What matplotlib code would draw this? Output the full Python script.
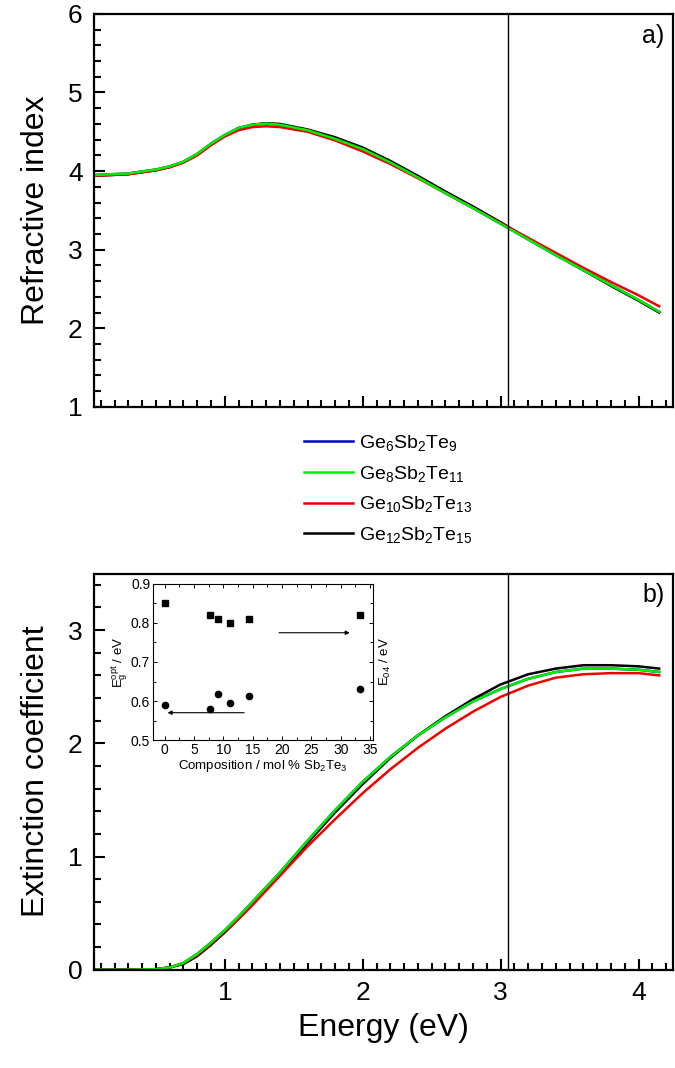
import numpy as np
import matplotlib.pyplot as plt
from matplotlib.ticker import MultipleLocator

plt.rcParams['font.family'] = ['Liberation Sans', 'DejaVu Sans']
plt.rcParams['mathtext.fontset'] = 'custom'
plt.rcParams['mathtext.rm'] = 'Liberation Sans'
plt.rcParams['mathtext.it'] = 'Liberation Sans'

# photon energy (eV) at which the curves were read
energy = [0.05, 0.3, 0.5, 0.6, 0.7, 0.8, 0.9, 1.0, 1.1, 1.2, 1.3, 1.4, 1.6, 1.8,
          2.0, 2.2, 2.4, 2.6, 2.8, 3.0, 3.2, 3.4, 3.6, 3.8, 4.0, 4.15]

labels = ['Ge$_6$Sb$_2$Te$_9$', 'Ge$_8$Sb$_2$Te$_{11}$',
          'Ge$_{10}$Sb$_2$Te$_{13}$', 'Ge$_{12}$Sb$_2$Te$_{15}$']
colors = ['#0000cc', '#00ee00', '#ee0000', 'black']

# refractive index n
n_ge6 = [3.95, 3.97, 4.02, 4.06, 4.12, 4.22, 4.35, 4.46, 4.55, 4.59, 4.605, 4.59, 4.52, 4.41,
         4.28, 4.11, 3.92, 3.72, 3.53, 3.33, 3.13, 2.93, 2.74, 2.55, 2.36, 2.21]
n_ge8 = [3.95, 3.97, 4.02, 4.06, 4.12, 4.22, 4.35, 4.46, 4.55, 4.59, 4.605, 4.59, 4.52, 4.41,
         4.28, 4.11, 3.92, 3.72, 3.53, 3.33, 3.13, 2.93, 2.74, 2.55, 2.36, 2.21]
n_ge10 = [3.94, 3.96, 4.01, 4.05, 4.11, 4.20, 4.33, 4.44, 4.52, 4.56, 4.57, 4.56, 4.50, 4.39,
          4.25, 4.09, 3.91, 3.72, 3.53, 3.34, 3.15, 2.96, 2.77, 2.59, 2.42, 2.28]
n_ge12 = [3.94, 3.96, 4.01, 4.05, 4.11, 4.21, 4.34, 4.45, 4.54, 4.59, 4.61, 4.60, 4.53, 4.43,
          4.30, 4.13, 3.94, 3.74, 3.55, 3.35, 3.14, 2.94, 2.74, 2.54, 2.35, 2.20]

# extinction coefficient k
k_ge6 = [0, 0, 0.005, 0.02, 0.06, 0.14, 0.24, 0.35, 0.47, 0.60, 0.73, 0.86, 1.14, 1.41,
         1.66, 1.88, 2.07, 2.23, 2.37, 2.48, 2.57, 2.63, 2.66, 2.66, 2.65, 2.63]
k_ge8 = [0, 0, 0.005, 0.02, 0.06, 0.14, 0.24, 0.35, 0.47, 0.60, 0.73, 0.86, 1.14, 1.41,
         1.66, 1.88, 2.07, 2.23, 2.37, 2.48, 2.57, 2.63, 2.66, 2.66, 2.65, 2.63]
k_ge10 = [0, 0, 0.005, 0.02, 0.06, 0.13, 0.23, 0.34, 0.45, 0.57, 0.70, 0.83, 1.09, 1.33,
          1.56, 1.77, 1.96, 2.13, 2.28, 2.41, 2.51, 2.58, 2.61, 2.62, 2.62, 2.60]
k_ge12 = [0, 0, 0.005, 0.02, 0.05, 0.12, 0.22, 0.33, 0.45, 0.58, 0.71, 0.84, 1.12, 1.39,
          1.64, 1.87, 2.07, 2.24, 2.39, 2.52, 2.61, 2.66, 2.69, 2.69, 2.68, 2.66]

e_line = 3.05

# inset: optical gaps vs composition
composition = [0, 7.7, 9.1, 11.1, 14.3, 33.3]
e_opt = [0.59, 0.58, 0.617, 0.595, 0.612, 0.63]
e_04 = [0.85, 0.82, 0.81, 0.80, 0.81, 0.82]

n_all = [n_ge6, n_ge8, n_ge10, n_ge12]
k_all = [k_ge6, k_ge8, k_ge10, k_ge12]
order = [0, 3, 2, 1]  # drawing order: blue, black, red, green


def style_axis(ax, ymaj, ymin):
    ax.set_xlim(0.05, 4.25)
    ax.xaxis.set_major_locator(MultipleLocator(1))
    ax.xaxis.set_minor_locator(MultipleLocator(0.1))
    ax.yaxis.set_major_locator(MultipleLocator(ymaj))
    ax.yaxis.set_minor_locator(MultipleLocator(ymin))
    ax.tick_params(which='both', direction='in', top=False, right=False,
                   width=1.5, labelsize=19)
    ax.tick_params(which='major', length=8, pad=8)
    ax.tick_params(which='minor', length=5)
    for s in ax.spines.values():
        s.set_linewidth(1.6)
    ax.axvline(e_line, color='black', lw=1.0)


fig = plt.figure(figsize=(6.75, 10.68), dpi=100)
ax1 = fig.add_axes([0.139, 0.619, 0.858, 0.368])
ax2 = fig.add_axes([0.139, 0.092, 0.858, 0.371])

handles = [None] * 4
for i in order:
    h, = ax1.plot(energy, n_all[i], color=colors[i], lw=1.8, label=labels[i])
    handles[i] = h
    ax2.plot(energy, k_all[i], color=colors[i], lw=1.8)

style_axis(ax1, 1, 0.2)
ax1.set_ylim(1, 6)
ax1.set_xticklabels([])
ax1.set_ylabel('Refractive index', fontsize=23, labelpad=12)
ax1.text(0.985, 0.975, 'a)', transform=ax1.transAxes, ha='right', va='top', fontsize=18)

style_axis(ax2, 1, 0.2)
ax2.set_ylim(0, 3.5)
ax2.set_xlabel('Energy (eV)', fontsize=23, labelpad=6)
ax2.set_ylabel('Extinction coefficient', fontsize=23, labelpad=12)
ax2.text(0.985, 0.975, 'b)', transform=ax2.transAxes, ha='right', va='top', fontsize=18)

fig.legend(handles=handles, loc='center', bbox_to_anchor=(0.575, 0.542),
           frameon=False, fontsize=14, handlelength=2.5, handletextpad=0.3,
           labelspacing=0.55)

# inset
ins = fig.add_axes([0.2267, 0.3071, 0.326, 0.1461])
ins.plot(composition, e_04, 's', color='black', ms=4.5)
ins.plot(composition, e_opt, 'o', color='black', ms=4.5)
ins.annotate('', xy=(0, 0.57), xytext=(14, 0.57),
             arrowprops=dict(arrowstyle='-|>', color='black', lw=0.8,
                             mutation_scale=6))
ins.annotate('', xy=(32, 0.775), xytext=(19, 0.775),
             arrowprops=dict(arrowstyle='-|>', color='black', lw=0.8,
                             mutation_scale=6))
ins.set_xlim(-2, 35.5)
ins.set_ylim(0.5, 0.9)
ins.xaxis.set_major_locator(MultipleLocator(5))
ins.xaxis.set_minor_locator(MultipleLocator(2.5))
ins.yaxis.set_major_locator(MultipleLocator(0.1))
ins.yaxis.set_minor_locator(MultipleLocator(0.05))
ins.tick_params(which='both', direction='in', top=True, right=True,
                labelsize=10, width=0.7, pad=2)
ins.tick_params(which='major', length=3)
ins.tick_params(which='minor', length=2)
for s in ins.spines.values():
    s.set_linewidth(0.8)
ins.set_xlabel('Composition / mol % Sb$_2$Te$_3$', fontsize=9.5, labelpad=1)
ins.set_ylabel('E$_g^{opt}$ / eV', fontsize=9.5, labelpad=1)
ins.text(1.02, 0.5, 'E$_{04}$ / eV', transform=ins.transAxes, rotation=90,
         ha='left', va='center', fontsize=9.5)

fig.savefig('out.png', dpi=100)
